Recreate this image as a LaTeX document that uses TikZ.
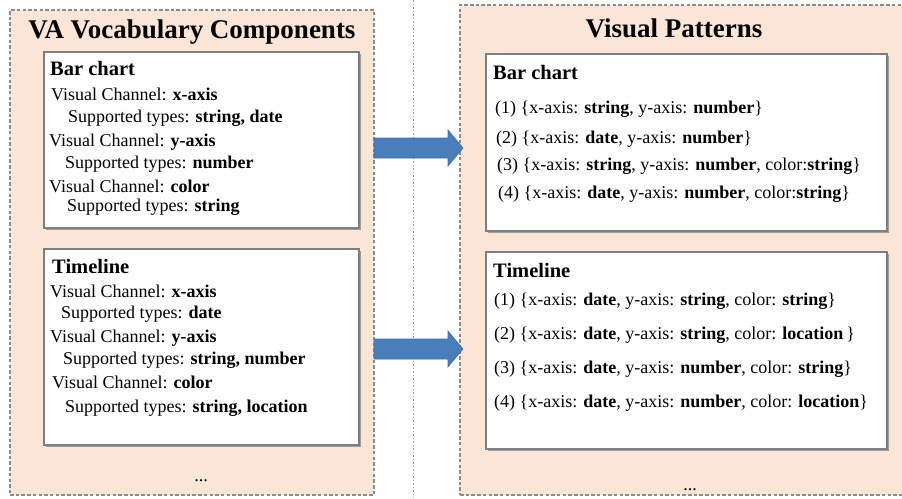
\documentclass[tikz,border=0pt]{standalone}
\usepackage{fontspec}
\setmainfont{Liberation Serif}
\usetikzlibrary{calc,shadows}
\definecolor{panelfill}{HTML}{FBE5D6}
\definecolor{panelline}{HTML}{8C8C8C}
\definecolor{boxline}{HTML}{7F7F7F}
\definecolor{arrowfill}{HTML}{4A7EBB}
\definecolor{arrowline}{HTML}{3E6FA6}
\definecolor{sepline}{HTML}{A0A0A0}

\tikzset{
  panel/.style={draw=panelline, fill=panelfill, line width=1.4pt,
    dash pattern=on 3.5pt off 2.2pt, inner sep=0pt, outer sep=0pt, anchor=north west},
  card/.style={draw=boxline, fill=white, line width=1.5pt, inner sep=0pt, outer sep=0pt,
    anchor=north west,
    drop shadow={shadow xshift=2.2pt, shadow yshift=-2.2pt, fill=black!38, opacity=1}},
  paneltitle/.style={font=\fontsize{27}{30}\selectfont\bfseries, inner sep=0pt, anchor=base},
  cardtitle/.style={font=\fontsize{20.5}{23}\selectfont\bfseries, inner sep=0pt, anchor=base west},
  entry/.style={font=\fontsize{18}{20}\selectfont, inner sep=0pt, anchor=base west},
  blockarrow/.style={fill=arrowfill, draw=arrowline, line width=0.6pt, line join=miter},
  divider/.style={draw=sepline, line width=1pt, dash pattern=on 1.5pt off 2pt}
}

% block arrow from #1 to #2: body half-height 10, head half-height 18, head length 15
\newcommand{\fatarrow}[2]{%
  \path[blockarrow] ($(#1)+(0,-10)$) -- ($(#2)+(-15,-10)$) -- ($(#2)+(-15,-18)$) --
    (#2) -- ($(#2)+(-15,18)$) -- ($(#2)+(-15,10)$) -- ($(#1)+(0,10)$) -- cycle;}

\begin{document}
\begin{tikzpicture}[x=1pt,y=-1pt]
\useasboundingbox (0,0) rectangle (902,498);
\clip (0,0) rectangle (902,498);

% divider between the two halves
\coordinate (divtop) at (413,0);
\coordinate (divbot) at (413,498);
\draw[divider] (divtop) -- (divbot);

% panels
\node[panel, minimum width=364pt, minimum height=485pt] (lpanel) at (10,10) {};
\node[panel, minimum width=460pt, minimum height=490pt] (rpanel) at (460,5) {};

\node[paneltitle] (ltitle) at (192,38) {VA Vocabulary Components};
\node[paneltitle] (rtitle) at (674,37) {Visual Patterns};

% vocabulary cards
\node[card, minimum width=315pt, minimum height=176pt] (lbar) at (44,52) {};
\node[card, minimum width=315pt, minimum height=196pt] (ltime) at (44,249) {};

\node[cardtitle] (lbar0) at (50,75) {Bar chart};
\node[entry] (lbar1) at (51,100) {Visual Channel: \textbf{x-axis}};
\node[entry] (lbar2) at (68,122) {Supported types: \textbf{string, date}};
\node[entry] (lbar3) at (49,146) {Visual Channel: \textbf{y-axis}};
\node[entry] (lbar4) at (65,168) {Supported types: \textbf{number}};
\node[entry] (lbar5) at (49,192) {Visual Channel: \textbf{color}};
\node[entry] (lbar6) at (67,211) {Supported types: \textbf{string}};

\node[cardtitle] (ltime0) at (52,273) {Timeline};
\node[entry] (ltime1) at (50,297) {Visual Channel: \textbf{x-axis}};
\node[entry] (ltime2) at (61,318) {Supported types: \textbf{date}};
\node[entry] (ltime3) at (50,342) {Visual Channel: \textbf{y-axis}};
\node[entry] (ltime4) at (63,364) {Supported types: \textbf{string, number}};
\node[entry] (ltime5) at (52,388) {Visual Channel: \textbf{color}};
\node[entry] (ltime6) at (65,412) {Supported types: \textbf{string, location}};

\node[entry, anchor=base] (ldots) at (201,481) {...};

% pattern cards
\node[card, minimum width=401pt, minimum height=177pt] (rbar) at (486,54) {};
\node[card, minimum width=401pt, minimum height=197pt] (rtime) at (486,252) {};

\node[cardtitle] (rbar0) at (493,79) {Bar chart};
\node[entry] (rbar1) at (495,113) {(1) \{x-axis: \textbf{string}, y-axis: \textbf{number}\}};
\node[entry] (rbar2) at (496,143) {(2) \{x-axis: \textbf{date}, y-axis: \textbf{number}\}};
\node[entry] (rbar3) at (497,170) {(3) \{x-axis: \textbf{string}, y-axis: \textbf{number}, color:\textbf{string}\}};
\node[entry] (rbar4) at (498,198) {(4) \{x-axis: \textbf{date}, y-axis: \textbf{number}, color:\textbf{string}\}};

\node[cardtitle] (rtime0) at (493,277) {Timeline};
\node[entry] (rtime1) at (494,305) {(1) \{x-axis: \textbf{date}, y-axis: \textbf{string}, color: \textbf{string}\}};
\node[entry] (rtime2) at (494,339) {(2) \{x-axis: \textbf{date}, y-axis: \textbf{string}, color: \textbf{location}\,\}};
\node[entry] (rtime3) at (494,373) {(3) \{x-axis: \textbf{date}, y-axis: \textbf{number}, color: \textbf{string}\}};
\node[entry] (rtime4) at (494,407) {(4) \{x-axis: \textbf{date}, y-axis: \textbf{number}, color: \textbf{location}\}};

\node[entry, anchor=base] (rdots) at (690,490) {...};

% arrows from vocabulary to patterns
\coordinate (a1s) at (lpanel.east |- 0,148);
\coordinate (a1e) at (463,148);
\coordinate (a2s) at (lpanel.east |- 0,349);
\coordinate (a2e) at (463,349);
\fatarrow{a1s}{a1e}
\fatarrow{a2s}{a2e}
\end{tikzpicture}
\end{document}
